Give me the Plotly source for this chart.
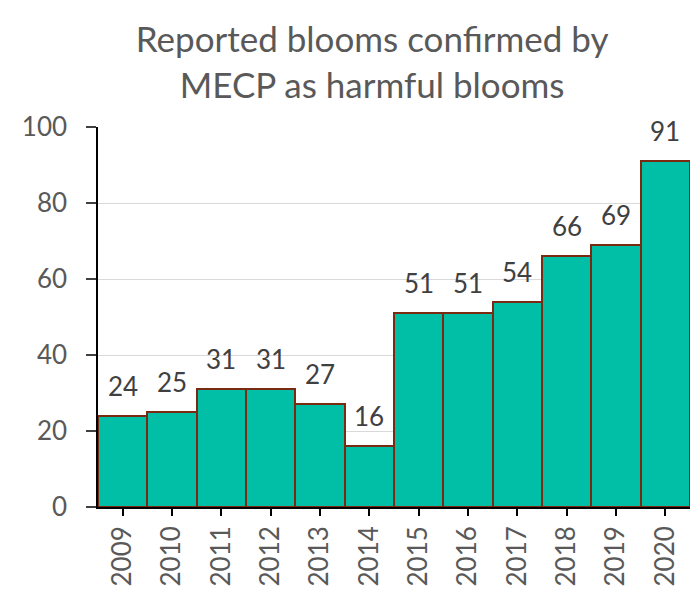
import plotly.graph_objects as go

years = ["2009", "2010", "2011", "2012", "2013", "2014", "2015", "2016", "2017", "2018", "2019", "2020"]
blooms = [24, 25, 31, 31, 27, 16, 51, 51, 54, 66, 69, 91]
y_ticks = [0, 20, 40, 60, 80, 100]

font_family = "Lato, Open Sans, sans-serif"
gray = "#595959"

fig = go.Figure(go.Bar(
    x=years, y=blooms,
    marker=dict(color="#00BFA6", line=dict(color="#7A2A10", width=2)),
    width=1.0,
    hoverinfo="x+y",
))

for i, v in enumerate(blooms):
    fig.add_annotation(
        x=i, y=v, text=str(v), showarrow=False,
        yanchor="middle", yshift=30,
        font=dict(size=26, color="#404040", family=font_family),
    )

fig.update_layout(
    width=693, height=592,
    margin=dict(l=98, r=3, t=127, b=85),
    paper_bgcolor="white", plot_bgcolor="white",
    bargap=0,
    showlegend=False,
    title=dict(
        text="Reported blooms confirmed by<br>MECP as harmful blooms",
        x=0.537, xanchor="center", xref="container",
        y=1 - 52 / 592, yanchor="middle", yref="container",
        font=dict(size=35, color=gray, family=font_family),
    ),
    xaxis=dict(
        type="category",
        showline=True, linecolor="black", linewidth=1.5,
        ticks="outside", ticklen=7, tickcolor="black", tickwidth=2,
        tickangle=-90,
        tickfont=dict(size=26, color=gray, family=font_family),
        showgrid=False,
    ),
    yaxis=dict(
        range=[0, 100], tickvals=y_ticks,
        showline=True, linecolor="black", linewidth=1.5,
        ticks="outside", ticklen=10, tickcolor="#404040", tickwidth=2,
        tickfont=dict(size=26, color=gray, family=font_family),
        showgrid=True, gridcolor="#D9D9D9", gridwidth=1.2,
        zeroline=False,
        ticklabelstandoff=14,
    ),
)

fig.write_html("out.html")
